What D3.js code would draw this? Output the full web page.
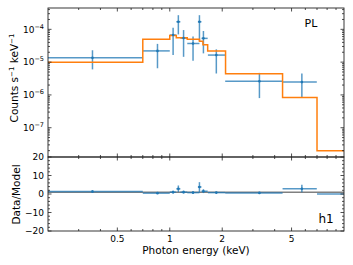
<!DOCTYPE html>
<html>
<head>
<meta charset="utf-8">
<style>
  body { margin: 0; background: #fff; }
  svg text { font-family: "DejaVu Sans", sans-serif; fill: #000; }
</style>
</head>
<body>
<svg width="353" height="265"></svg>
<script src="https://d3js.org/d3.v7.min.js"></script>
<script>
// model (orange step) bins and values
var modelLo = [0.2, 0.7, 1.0, 1.09, 1.26, 1.48, 1.55, 1.65, 2.09, 4.44, 7.0];
var modelHi = [0.7, 1.0, 1.09, 1.26, 1.48, 1.55, 1.65, 2.09, 4.44, 7.0, 10];
var modelVal = [1.0e-5, 5.0e-5, 6.5e-5, 5.5e-5, 5.0e-5, 4.3e-5, 3.4e-5, 2.2e-5, 4.4e-6, 8.3e-7, 2.0e-8];

// data points (blue) - energy, bin edges, counts and error range
var dataE  = [0.36, 0.85, 1.045, 1.12, 1.2, 1.36, 1.48, 1.56, 1.85, 3.27, 5.73, 8.4];
var dataLo = [0.2, 0.7, 1.0, 1.09, 1.15, 1.26, 1.45, 1.52, 1.655, 2.08, 4.44, 7.0];
var dataHi = [0.7, 1.0, 1.09, 1.15, 1.26, 1.48, 1.52, 1.65, 2.08, 4.44, 6.98, 10];
var dataY  = [1.35e-5, 2.2e-5, 6.7e-5, 1.7e-4, 5.4e-5, 3.7e-5, 1.7e-4, 5.3e-5, 1.64e-5, 2.6e-6, 2.46e-6, 0];
var dataYlo = [6e-6, 6.5e-6, 1.65e-5, 7.0e-5, 1.45e-5, 1.1e-5, 4.4e-5, 1.85e-5, 4.5e-6, 8e-7, 8e-7, 0];
var dataYhi = [2.3e-5, 3.6e-5, 1.12e-4, 2.7e-4, 9.5e-5, 6e-5, 2.7e-4, 8.9e-5, 2.45e-5, 4.7e-6, 4.5e-6, 0];

// ratio data/model
var ratio   = [1.3, 0.45, 1.0, 2.8, 1.0, 0.75, 3.8, 1.5, 0.75, 0.6, 2.8, 0];
var ratioLo = [0.7, 0.1, 0.3, 1.0, 0.3, 0.2, 0.9, 0.5, 0.2, 0.2, 0.9, 0];
var ratioHi = [2.0, 0.8, 1.7, 4.6, 1.8, 1.3, 6.4, 2.6, 1.2, 1.1, 5.0, 0];

var xMajor = [0.5, 1, 2, 5];
var xMinor = [0.3, 0.4, 0.6, 0.7, 0.8, 0.9, 3, 4, 6, 7, 8, 9];
var yMajorExp = [-4, -5, -6, -7];
var rMajor = [-20, -10, 0, 10, 20];

var blue = "#1f77b4", orange = "#ff7f0e";
var svg = d3.select("svg");
var L = 48, R = 344, T = 8, M = 157, B = 231;

var x = d3.scaleLog().domain([0.2, 10]).range([L, R]);
var y = d3.scaleLog().domain([1.28e-8, 4.47e-4]).range([M, T]);
var yr = d3.scaleLinear().domain([-20, 20]).range([B, M]);

var clip = svg.append("defs");
clip.append("clipPath").attr("id", "ctop").append("rect")
  .attr("x", L).attr("y", T).attr("width", R - L).attr("height", M - T);
clip.append("clipPath").attr("id", "cbot").append("rect")
  .attr("x", L).attr("y", M).attr("width", R - L).attr("height", B - M);

// ---- top panel
var gt = svg.append("g").attr("clip-path", "url(#ctop)");

var stepPts = modelLo.map(function(d, i) { return [d, modelVal[i]]; });
stepPts.push([modelHi[modelHi.length - 1], modelVal[modelVal.length - 1]]);
var step = d3.line()
  .x(function(d) { return x(d[0]); })
  .y(function(d) { return y(d[1]); })
  .curve(d3.curveStepAfter);

dataE.forEach(function(e, i) {
  if (dataY[i] <= 0) return;
  gt.append("line")
    .attr("x1", x(dataLo[i])).attr("x2", x(dataHi[i]))
    .attr("y1", y(dataY[i])).attr("y2", y(dataY[i]))
    .attr("stroke", blue).attr("stroke-opacity", 0.75).attr("stroke-width", 1.5);
  gt.append("line")
    .attr("x1", x(e)).attr("x2", x(e))
    .attr("y1", y(dataYlo[i])).attr("y2", y(dataYhi[i]))
    .attr("stroke", blue).attr("stroke-opacity", 0.75).attr("stroke-width", 1.5);
});

gt.append("path").datum(stepPts).attr("d", step)
  .attr("fill", "none").attr("stroke", orange).attr("stroke-width", 1.5);

dataE.forEach(function(e, i) {
  if (dataY[i] <= 0) return;
  gt.append("circle").attr("cx", x(e)).attr("cy", y(dataY[i])).attr("r", 1.3).attr("fill", blue);
});

// ---- bottom panel
var gb = svg.append("g").attr("clip-path", "url(#cbot)");
gb.append("line")
  .attr("x1", L).attr("x2", R).attr("y1", yr(1)).attr("y2", yr(1))
  .attr("stroke", "#808080").attr("stroke-width", 1.5);

dataE.forEach(function(e, i) {
  gb.append("line")
    .attr("x1", x(dataLo[i])).attr("x2", x(dataHi[i]))
    .attr("y1", yr(ratio[i])).attr("y2", yr(ratio[i]))
    .attr("stroke", blue).attr("stroke-opacity", 0.75).attr("stroke-width", 1.5);
  gb.append("line")
    .attr("x1", x(e)).attr("x2", x(e))
    .attr("y1", yr(ratioLo[i])).attr("y2", yr(ratioHi[i]))
    .attr("stroke", blue).attr("stroke-opacity", 0.75).attr("stroke-width", 1.5);
  if (ratio[i] > 0)
    gb.append("circle").attr("cx", x(e)).attr("cy", yr(ratio[i])).attr("r", 1.3).attr("fill", blue);
});

// ---- frames and ticks
function frame(y0, y1) {
  svg.append("rect").attr("x", L).attr("y", y0).attr("width", R - L).attr("height", y1 - y0)
    .attr("fill", "none").attr("stroke", "#222").attr("stroke-width", 0.9);
}
frame(T, M);
frame(M, B);

function tick(x1, y1, x2, y2) {
  svg.append("line").attr("x1", x1).attr("y1", y1).attr("x2", x2).attr("y2", y2)
    .attr("stroke", "#222").attr("stroke-width", 0.8);
}

// x ticks on all horizontal edges
[[T, 1], [M, -1], [M, 1], [B, -1]].forEach(function(p) {
  xMajor.forEach(function(v) { tick(x(v), p[0], x(v), p[0] + p[1] * 3.5); });
  xMinor.forEach(function(v) { tick(x(v), p[0], x(v), p[0] + p[1] * 2); });
});

// log y ticks top panel
yMajorExp.forEach(function(ex) {
  var v = Math.pow(10, ex);
  tick(L, y(v), L + 3.5, y(v));
  tick(R, y(v), R - 3.5, y(v));
});
for (var ex = -8; ex <= -4; ex++) {
  for (var k = 2; k <= 9; k++) {
    var v = k * Math.pow(10, ex);
    var py = y(v);
    if (py < T || py > M) continue;
    tick(L, py, L + 2, py);
    tick(R, py, R - 2, py);
  }
}

// ratio ticks
for (var r = -20; r <= 20; r += 2) {
  var len = (r % 10 === 0) ? 3.5 : 2;
  tick(L, yr(r), L + len, yr(r));
  tick(R, yr(r), R - len, yr(r));
}

// ---- labels
var fs = 9;
xMajor.forEach(function(v) {
  svg.append("text").attr("x", x(v)).attr("y", 242).attr("text-anchor", "middle")
    .attr("font-size", fs).text(v);
});
yMajorExp.forEach(function(ex) {
  var t = svg.append("text").attr("x", 44).attr("y", y(Math.pow(10, ex)) + 3.3)
    .attr("text-anchor", "end").attr("font-size", fs);
  t.append("tspan").text("10");
  t.append("tspan").attr("dy", -4).attr("font-size", 6.5).text("\u2212" + (-ex));
});
rMajor.forEach(function(v) {
  svg.append("text").attr("x", 44).attr("y", yr(v) + 3.3).attr("text-anchor", "end")
    .attr("font-size", fs).text(v < 0 ? "\u2212" + (-v) : v);
});

svg.append("text").attr("x", 196).attr("y", 254).attr("text-anchor", "middle")
  .attr("font-size", 10.5).text("Photon energy (keV)");

var yl = svg.append("text").attr("transform", "translate(18,78) rotate(-90)")
  .attr("text-anchor", "middle").attr("font-size", 10.5);
yl.append("tspan").text("Counts s");
yl.append("tspan").attr("dy", -4).attr("font-size", 7).text("\u22121");
yl.append("tspan").attr("dy", 4).text(" keV");
yl.append("tspan").attr("dy", -4).attr("font-size", 7).text("\u22121");

svg.append("text").attr("transform", "translate(20,194.5) rotate(-90)")
  .attr("text-anchor", "middle").attr("font-size", 10.5).text("Data/Model");

svg.append("text").attr("x", 311).attr("y", 27).attr("text-anchor", "middle")
  .attr("font-size", 11).text("PL");
svg.append("text").attr("x", 326).attr("y", 223).attr("text-anchor", "middle")
  .attr("font-size", 12).text("h1");
</script>
</body>
</html>
